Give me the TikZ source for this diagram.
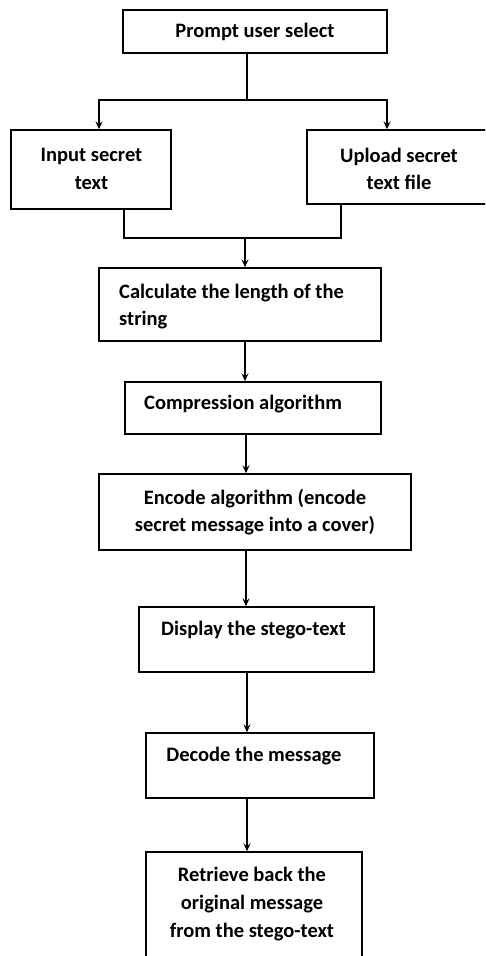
\documentclass[tikz,border=0pt]{standalone}
\usepackage{fontspec}
\setmainfont{Carlito}
\usetikzlibrary{arrows.meta,calc}
\tikzset{
  boxshape/.style={draw=black, line width=1.4pt, rectangle, inner sep=0pt},
  lbl/.style={font=\fontsize{20.5}{27.7}\selectfont\bfseries, inner sep=0pt, text=black},
  conn/.style={line width=1.4pt, draw=black},
  arr/.style={conn, -{Stealth[length=8pt,width=7pt,inset=3pt]}}
}
\begin{document}
\begin{tikzpicture}[x=1pt,y=-1pt]
\useasboundingbox (0,0) rectangle (485,956);
\clip (0,0) rectangle (485,956);
\fill[white] (0,0) rectangle (485,956);
% boxes
\node[boxshape, minimum width=264pt, minimum height=43pt] (b1) at (255,31.5) {};
\node[boxshape, minimum width=160pt, minimum height=79pt] (b2) at (91,169.5) {};
\node[boxshape, minimum width=183pt, minimum height=74pt] (b3) at (398.5,167) {};
\node[boxshape, minimum width=282pt, minimum height=73pt] (b4) at (240,304.5) {};
\node[boxshape, minimum width=256pt, minimum height=52pt] (b5) at (253,408) {};
\node[boxshape, minimum width=312pt, minimum height=76pt] (b6) at (255,512) {};
\node[boxshape, minimum width=235pt, minimum height=65pt] (b7) at (256.5,639.5) {};
\node[boxshape, minimum width=228pt, minimum height=65pt] (b8) at (260,765.5) {};
\node[boxshape, minimum width=216pt, minimum height=113pt] (b9) at (254,908.5) {};
% texts
\node[lbl] (t1) at (255,32) {Prompt user select};
\node[lbl, align=center] (t2) at (91.5,169) {Input secret\\text};
\node[lbl, align=center] (t3) at (399,169) {Upload secret\\text file};
\node[lbl, align=left, anchor=west] (t4) at (119,306.5) {Calculate the length of the\\string};
\node[lbl, anchor=west] (t5) at (144,404) {Compression algorithm};
\node[lbl, align=center] (t6) at (255,512) {Encode algorithm (encode\\secret message into a cover)};
\node[lbl] (t7) at (253.5,630) {Display the stego-text};
\node[lbl] (t8) at (254,756) {Decode the message};
\node[lbl, align=center] (t9) at (252,904) {Retrieve back the\\original message\\from the stego-text};
% connectors
\coordinate (j1) at (247,100);
\coordinate (j2) at (245,238);
\coordinate (l2) at (124,238);
\coordinate (r3) at (341,238);
\draw[conn] (b1.south -| j1) -- (j1);
\draw[arr] (j1) -| ([xshift=8pt]b2.north);
\draw[arr] (j1) -| ([xshift=-11.5pt]b3.north);
\draw[conn] (b2.south -| l2) -- (l2) -- (r3) -- (b3.south -| r3);
\draw[arr] (j2) -- (b4.north -| j2);
\draw[arr] (b4.south -| j2) -- (b5.north -| j2);
\draw[arr] ([xshift=1pt]b5.south -| j2) -- ([xshift=1pt]b6.north -| j2);
\draw[arr] ([xshift=1pt]b6.south -| j2) -- ([xshift=1pt]b7.north -| j2);
\draw[arr] (b7.south -| j1) -- (b8.north -| j1);
\draw[arr] (b8.south -| j1) -- (b9.north -| j1);
\end{tikzpicture}
\end{document}
